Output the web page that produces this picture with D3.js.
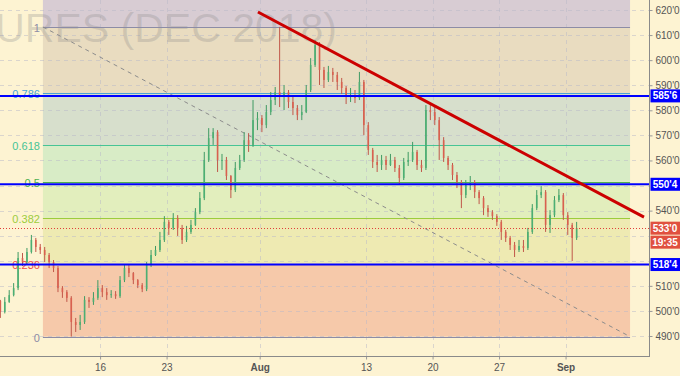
<!DOCTYPE html>
<html>
<head>
<meta charset="utf-8">
<script src="https://cdn.jsdelivr.net/npm/d3@7"></script>
<style>
body { margin: 0; background: #fdf3d2; }
svg { display: block; }
text { font-family: "Liberation Sans", Arial, sans-serif; }
</style>
</head>
<body>
<svg id="chart" width="680" height="376"></svg>
<script>
// trading days (Jul 4 and Sep 3 closed)
var days = ["2018-07-03","2018-07-05","2018-07-06","2018-07-09","2018-07-10","2018-07-11","2018-07-12","2018-07-13",
  "2018-07-16","2018-07-17","2018-07-18","2018-07-19","2018-07-20","2018-07-23","2018-07-24","2018-07-25","2018-07-26","2018-07-27",
  "2018-07-30","2018-07-31","2018-08-01","2018-08-02","2018-08-03","2018-08-06","2018-08-07","2018-08-08","2018-08-09","2018-08-10",
  "2018-08-13","2018-08-14","2018-08-15","2018-08-16","2018-08-17","2018-08-20","2018-08-21","2018-08-22","2018-08-23","2018-08-24",
  "2018-08-27","2018-08-28","2018-08-29","2018-08-30","2018-08-31","2018-09-04","2018-09-05","2018-09-06","2018-09-07",
  "2018-09-10","2018-09-11","2018-09-12"];
var tickDays = ["2018-07-16","2018-07-23","2018-08-01","2018-08-13","2018-08-20","2018-08-27","2018-09-04"];
var tickLabels = ["16","23","Aug","13","20","27","Sep"];
var priceTicks = [490,500,510,520,530,540,550,560,570,580,590,600,610,620];

// bars: 3 per day, first one starts a third into Jul 3
var barsPerDay = 3, firstSlot = 1;
var firstOpen = 504.0;
var close = [499.6,503.6,506.3,509.1,521.1,519.5,523.5,528.3,525.5,524.3,
  522.3,519.5,517.1,509.1,507.5,505.2,495.6,494.4,495.6,504.4,
  503.6,505.2,509.1,507.5,506.3,506.7,505.9,512.3,517.1,515.1,
  512.3,510.3,508.7,518.3,522.3,524.3,528.3,535.5,533.1,537.1,
  533.1,528.3,531.5,534.3,539.4,545.0,560.2,568.9,571.3,560.2,
  560.2,553.8,548.2,557.0,560.2,568.1,566.2,576.1,576.9,574.1,
  579.3,584.1,587.3,585.7,587.3,583.3,580.9,578.1,579.3,588.1,
  598.1,606.0,596.1,592.1,595.3,594.1,591.3,588.9,585.7,586.1,
  584.9,591.3,574.1,564.2,559.4,558.2,560.2,558.2,560.2,557.0,
  553.0,559.4,560.2,563.4,558.2,557.0,580.1,579.3,576.1,568.1,
  561.0,558.2,554.2,551.4,546.2,550.2,551.4,547.4,545.0,541.0,
  539.4,537.8,535.5,531.5,529.1,526.3,524.3,525.9,525.1,531.5,
  541.0,546.2,547.4,534.3,538.2,544.2,546.2,538.2,534.3,529.1,
  533.0];
var high = [504.4,505.5,508.3,511.1,523.5,523.1,525.1,530.3,529.1,526.7,
  525.5,523.1,520.3,517.9,509.9,508.3,505.9,497.2,498.4,505.9,
  505.5,507.5,512.3,510.3,509.1,508.3,507.9,513.9,518.3,518.3,
  515.5,512.7,511.1,519.5,524.3,525.9,531.5,537.8,536.3,539.0,
  538.2,534.3,533.9,536.3,541.0,547.4,563.4,572.9,572.9,572.1,
  562.6,561.4,554.2,559.4,562.2,571.3,570.9,584.1,579.3,578.1,
  582.1,587.3,589.3,613.25,590.1,588.1,585.7,582.1,582.1,590.1,
  600.8,608.0,607.2,597.3,597.7,596.9,595.3,592.9,589.7,588.9,
  588.1,595.3,592.1,575.3,565.0,562.2,562.2,561.8,562.6,561.4,
  558.2,561.0,563.4,567.4,564.2,560.2,582.1,582.5,581.3,577.3,
  569.3,561.8,559.0,555.4,552.2,552.2,553.8,552.2,548.2,545.8,
  542.2,540.2,538.6,536.3,532.3,529.9,527.5,528.3,528.3,533.1,
  542.6,548.2,549.8,548.2,540.2,545.8,548.6,547.0,539.4,535.1,
  535.5];
var low = [497.2,499.0,503.2,505.8,508.3,517.9,518.3,522.9,523.5,522.7,
  519.5,517.1,515.5,507.5,505.2,503.6,489.75,491.6,492.4,494.8,
  501.2,502.4,504.4,505.5,504.4,505.2,504.8,505.2,511.5,513.5,
  510.7,509.1,507.5,507.9,517.5,521.9,523.5,527.5,530.3,532.3,
  529.9,526.7,527.5,530.7,533.9,538.6,544.2,559.4,566.2,555.4,
  556.2,552.2,545.0,547.4,556.2,559.4,563.4,565.4,572.1,571.3,
  572.9,578.1,582.1,581.3,580.1,580.9,578.1,576.1,576.1,578.9,
  587.3,597.3,590.1,588.9,591.3,591.3,588.1,586.5,582.5,583.3,
  582.9,584.1,570.1,562.2,557.0,555.4,556.2,556.2,557.8,555.4,
  550.6,552.2,557.8,559.4,556.2,555.4,556.2,576.1,574.1,560.2,
  559.4,556.2,552.2,549.0,541.0,545.0,548.2,545.0,542.6,538.2,
  537.5,536.3,533.9,528.3,527.5,524.3,521.5,523.5,523.5,524.3,
  530.7,540.2,545.0,531.5,531.1,537.4,543.4,536.3,530.3,519.9,
  528.3];

// fibonacci retracement
var fibLow = 489.75, fibHigh = 613.25;
var fibStartDay = 3.7, fibEndDay = 47.85;
var fibLevels = [0, 0.236, 0.382, 0.5, 0.618, 0.786, 1];
var fibLabels = ["0", "0.236", "0.382", "0.5", "0.618", "0.786", "1"];
var fibLineColors = ["#8c8ca6", "#f04a4a", "#9ccc3c", "#4caf50", "#47c495", "#4aa3d8", "#8c8ca6"];
var fibZoneColors = ["#f6c9aa", "#eeeab2", "#e2eebd", "#d8ecc6", "#d7dfcc", "#e9dcc0", "#d8ccd3"];

// horizontal levels and trend line
var hLevels = [585.75, 550.5, 518.5];
var lastPrice = 533.0, timerText = "19:35";
var trendDays = [19.87, 48.9], trendPrices = [619.2, 537.4];

var svg = d3.select("#chart");
var plotR = 650, plotB = 357;
var x = d3.scaleLinear().domain([0, 49.35]).range([-6.3, 650]);
var y = d3.scaleLinear().domain([490, 620]).range([336, 10]);
function fmt(p) { var f = Math.floor(p); return f + "'" + Math.round((p - f) * 8); }
var fibPrice = function(l) { return fibLow + l * (fibHigh - fibLow); };

svg.append("defs").append("clipPath").attr("id", "clip")
  .append("rect").attr("width", plotR).attr("height", plotB);
var plot = svg.append("g").attr("clip-path", "url(#clip)");

// fib zones
var fx0 = x(fibStartDay), fx1 = x(fibEndDay);
fibLevels.forEach(function(l, i) {
  var top = i < fibLevels.length - 1 ? y(fibPrice(fibLevels[i + 1])) : 0;
  plot.append("rect").attr("x", fx0).attr("width", fx1 - fx0)
    .attr("y", top).attr("height", y(fibPrice(l)) - top)
    .attr("fill", fibZoneColors[i]);
});

// grid
plot.selectAll(".hg").data(priceTicks).enter().append("line")
  .attr("x1", 0).attr("x2", plotR).attr("y1", function(d) { return Math.round(y(d)) + 0.5; })
  .attr("y2", function(d) { return Math.round(y(d)) + 0.5; })
  .attr("stroke", "#b8b8c8").attr("stroke-opacity", 0.5).attr("stroke-dasharray", "4,4");
plot.selectAll(".vg").data(tickDays).enter().append("line")
  .attr("y1", 0).attr("y2", plotB)
  .attr("x1", function(d) { return Math.round(x(days.indexOf(d))) + 0.5; })
  .attr("x2", function(d) { return Math.round(x(days.indexOf(d))) + 0.5; })
  .attr("stroke", "#b8b8c8").attr("stroke-opacity", 0.5).attr("stroke-dasharray", "4,4");

// watermark (symbol title, only its tail is in view)
plot.append("text").attr("x", 337).attr("y", 42).attr("text-anchor", "end")
  .attr("font-size", "41px").attr("fill", "#8a8a8a").attr("fill-opacity", 0.28)
  .text("URES (DEC 2018)");

// fib lines + labels
fibLevels.forEach(function(l, i) {
  var yy = Math.round(y(fibPrice(l))) + 0.5;
  plot.append("line").attr("x1", fx0).attr("x2", fx1).attr("y1", yy).attr("y2", yy)
    .attr("stroke", fibLineColors[i]).attr("stroke-width", 1);
  plot.append("text").attr("x", fx0 - 3).attr("y", yy + 4).attr("text-anchor", "end")
    .attr("font-size", "11px").attr("fill", fibLineColors[i]).text(fibLabels[i]);
});
plot.append("line")
  .attr("x1", fx0).attr("y1", y(fibHigh)).attr("x2", fx1).attr("y2", y(fibLow))
  .attr("stroke", "#8c8c8c").attr("stroke-dasharray", "4,4");

// candles
var bars = close.map(function(c, i) {
  return { t: (i + firstSlot + 0.5) / barsPerDay, o: i ? close[i - 1] : firstOpen, c: c, h: high[i], l: low[i] };
});
var bw = 1.6;
var cg = plot.selectAll(".bar").data(bars).enter().append("g");
cg.append("line")
  .attr("x1", function(d) { return x(d.t); }).attr("x2", function(d) { return x(d.t); })
  .attr("y1", function(d) { return y(d.h); }).attr("y2", function(d) { return y(d.l); })
  .attr("stroke", function(d) { return d.c >= d.o ? "#3f9a63" : "#c0574a"; });
cg.append("rect")
  .attr("x", function(d) { return x(d.t) - bw / 2; }).attr("width", bw)
  .attr("y", function(d) { return y(Math.max(d.o, d.c)); })
  .attr("height", function(d) { return Math.max(1, Math.abs(y(d.o) - y(d.c))); })
  .attr("fill", function(d) { return d.c >= d.o ? "#4caf73" : "#d9604f"; });

// blue levels
plot.selectAll(".hl").data(hLevels).enter().append("line")
  .attr("x1", 0).attr("x2", plotR)
  .attr("y1", function(d) { return y(d); }).attr("y2", function(d) { return y(d); })
  .attr("stroke", "#0000ff").attr("stroke-width", 2);

// last price
plot.append("line").attr("x1", 0).attr("x2", plotR)
  .attr("y1", Math.round(y(lastPrice)) + 0.5).attr("y2", Math.round(y(lastPrice)) + 0.5)
  .attr("stroke", "#e0403a").attr("stroke-dasharray", "1,2");

// trend line
plot.append("line")
  .attr("x1", x(trendDays[0])).attr("y1", y(trendPrices[0]))
  .attr("x2", x(trendDays[1])).attr("y2", y(trendPrices[1]))
  .attr("stroke", "#cc0000").attr("stroke-width", 3);

// axes
var yAxis = d3.axisRight(y).tickValues(priceTicks.filter(function(p) {
  return hLevels.concat([lastPrice, lastPrice - 5]).every(function(h) { return Math.abs(y(h) - y(p)) > 10; });
})).tickSize(3).tickPadding(3).tickFormat(fmt);
var ya = svg.append("g").attr("transform", "translate(" + (plotR - 0.5) + ",0)").call(yAxis);
var xAxis = d3.axisBottom(x).tickValues(tickDays.map(function(d) { return days.indexOf(d); }))
  .tickSize(3).tickPadding(4).tickFormat(function(d, i) { return tickLabels[i]; });
var xa = svg.append("g").attr("transform", "translate(0," + (plotB - 0.5) + ")").call(xAxis);
[ya, xa].forEach(function(a) {
  a.select(".domain").remove();
  a.selectAll("line").attr("stroke", "#999");
  a.selectAll("text").attr("fill", "#555").attr("font-size", "10px")
    .attr("font-family", "'Liberation Sans', Arial, sans-serif");
});
xa.selectAll("text").attr("font-weight", function(d, i) { return isNaN(+tickLabels[i]) ? "bold" : "normal"; });
svg.append("line").attr("x1", plotR - 0.5).attr("x2", plotR - 0.5).attr("y1", 0).attr("y2", plotB)
  .attr("stroke", "#8a8a8a");
svg.append("line").attr("x1", 0).attr("x2", plotR).attr("y1", plotB - 0.5).attr("y2", plotB - 0.5)
  .attr("stroke", "#8a8a8a");

// price boxes
function box(yc, txt, color) {
  svg.append("rect").attr("x", plotR + 0.5).attr("y", yc - 6.5).attr("width", 680 - plotR).attr("height", 13)
    .attr("fill", color);
  svg.append("text").attr("x", plotR + 15).attr("y", yc + 3.5).attr("text-anchor", "middle")
    .attr("font-size", "10px").attr("fill", "#fff").attr("font-weight", "bold").text(txt);
}
hLevels.forEach(function(h) { box(y(h), fmt(h), "#0000ff"); });
box(y(lastPrice), fmt(lastPrice), "#e0503f");
box(y(lastPrice) + 14, timerText, "#e0503f");
</script>
</body>
</html>
